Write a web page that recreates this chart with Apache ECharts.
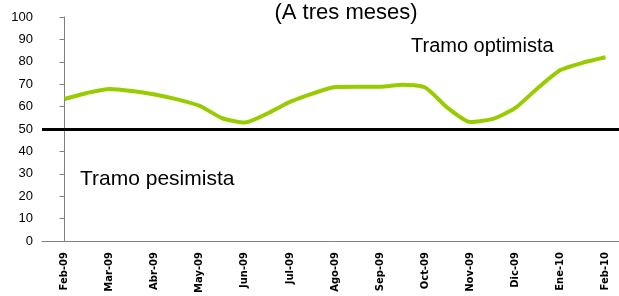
<!DOCTYPE html>
<html lang="es">
<head>
  <meta charset="UTF-8">
  <title>Tramos</title>
  <script src="https://cdn.jsdelivr.net/npm/echarts@6/dist/echarts.min.js"></script>
</head>
<body style="margin:0">
  <div id="chart" style="width: 619px; height: 296px;"></div>
  <script>
    // meses del eje
    const months = ['Feb-09', 'Mar-09', 'Abr-09', 'May-09', 'Jun-09', 'Jul-09', 'Ago-09',
      'Sep-09', 'Oct-09', 'Nov-09', 'Dic-09', 'Ene-10', 'Feb-10']
    // valores quincenales
    const values = [63.4, 66.1, 67.9, 67.0, 65.4, 63.2, 60.3, 54.8, 52.9, 56.9, 62.1, 65.8,
      68.8, 68.9, 68.9, 69.8, 68.5, 59.4, 53.1, 54.5, 59.4, 68.3, 76.3, 79.6, 82.0]
    const threshold = 50

    const myChart = echarts.init(document.getElementById('chart'))

    // posicion en meses: cada punto es medio mes
    const lineData = values.map((v, i) => [i / 2, v])

    const option = {
      animation: false,
      textStyle: { fontFamily: 'Liberation Sans, Arial, sans-serif' },
      title: {
        text: '(A tres meses)',
        left: 341,
        top: -3,
        textAlign: 'center',
        textStyle: { fontSize: 22, fontWeight: 'normal', color: '#000', fontFamily: 'Liberation Sans' }
      },
      graphic: [
        { type: 'text', left: 411, top: 36, style: { text: 'Tramo optimista', fontSize: 20, fill: '#000', fontFamily: 'Liberation Sans' } },
        { type: 'text', left: 80, top: 169, style: { text: 'Tramo pesimista', fontSize: 21, fill: '#000', fontFamily: 'Liberation Sans' } }
      ],
      grid: { left: 42, top: 17, width: 586, height: 224, outerBoundsMode: 'none' },
      xAxis: [
        {
          type: 'category',
          data: months,
          axisLine: { lineStyle: { color: '#808080', width: 1 } },
          axisTick: { length: 4, lineStyle: { color: '#808080' } },
          axisLabel: {
            rotate: 90,
            interval: 0,
            margin: 11,
            fontSize: 10,
            fontWeight: 'bold',
            fontFamily: 'DejaVu Sans',
            color: '#000'
          }
        },
        { type: 'value', min: -0.5, max: 12.5, show: false }
      ],
      yAxis: {
        type: 'value',
        min: 0,
        max: 100,
        interval: 10,
        splitLine: { show: false },
        axisLine: { show: true, lineStyle: { color: '#808080' } },
        axisTick: { show: true, length: 5, lineStyle: { color: '#808080' } },
        axisLabel: { fontSize: 13, color: '#000', margin: 9 }
      },
      series: [
        {
          type: 'line',
          xAxisIndex: 1,
          data: lineData,
          showSymbol: false,
          smooth: 0.2,
          lineStyle: { color: '#99cc00', width: 4 },
          markLine: {
            silent: true,
            symbol: 'none',
            label: { show: false },
            lineStyle: { color: '#000', width: 3, type: 'solid' },
            data: [{ yAxis: threshold }]
          }
        }
      ]
    }

    myChart.setOption(option)
  </script>
</body>
</html>
